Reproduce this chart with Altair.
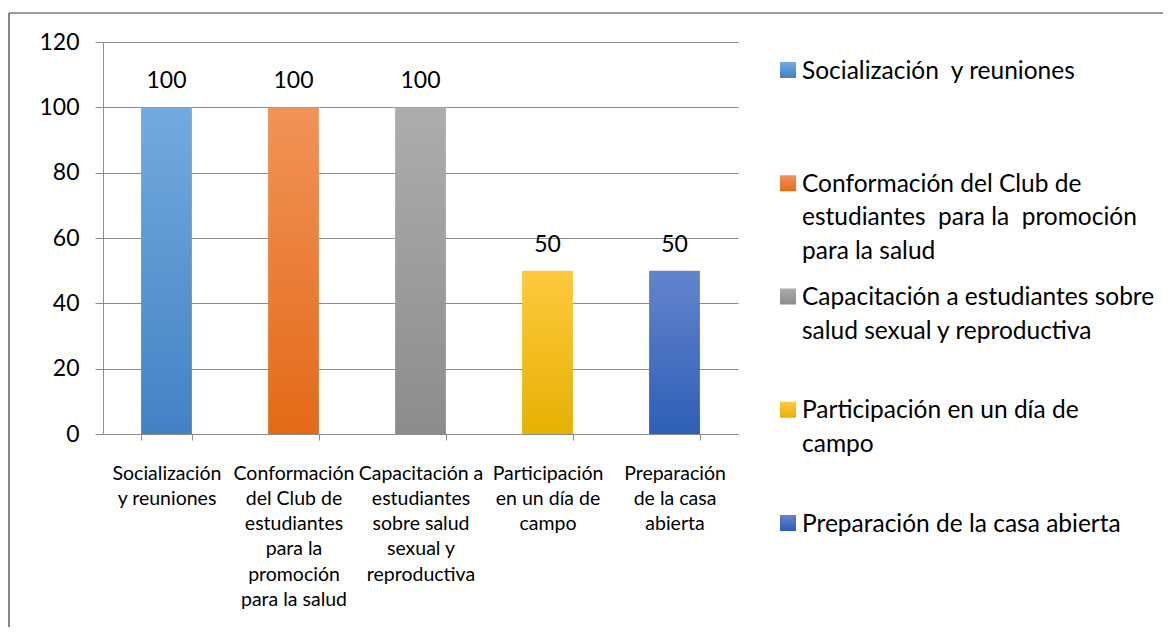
import altair as alt
import pandas as pd

# ---- data ----
axis_labels = [
    "Socialización\ny reuniones",
    "Conformación\ndel Club de\nestudiantes\npara la\npromoción\npara la salud",
    "Capacitación a\nestudiantes\nsobre salud\nsexual y\nreproductiva",
    "Participación\nen un día de\ncampo",
    "Preparación\nde la casa\nabierta",
]
series_names = [
    "Socialización\u00a0 y reuniones",
    "Conformación del Club de estudiantes\u00a0 para la\u00a0 promoción para la salud",
    "Capacitación a estudiantes sobre salud sexual y reproductiva",
    "Participación en un día de campo",
    "Preparación de la casa abierta",
]
legend_labels = [
    "Socialización\u00a0 y reuniones",
    "Conformación del Club de\nestudiantes\u00a0 para la\u00a0 promoción\npara la salud",
    "Capacitación a estudiantes sobre\nsalud sexual y reproductiva",
    "Participación en un día de\ncampo",
    "Preparación de la casa abierta",
]
values = [100, 100, 100, 50, 50]
y_ticks = [0, 20, 40, 60, 80, 100, 120]

top_colors = ["#74AADE", "#F29358", "#ADADAD", "#FFC841", "#6384CC"]
bottom_colors = ["#4282C4", "#E36A17", "#8C8C8C", "#E6B200", "#2E5EB7"]

df = pd.DataFrame({
    "category": axis_labels,
    "series": series_names,
    "legend": legend_labels,
    "value": values,
})

FONT = "Lato"
GRID = "#8C8C8C"

x_enc = alt.X(
    "category:N",
    sort=axis_labels,
    scale=alt.Scale(paddingInner=0.6, paddingOuter=0.3),
    axis=alt.Axis(
        title=None, labelAngle=0, labelExpr="split(datum.label, '\\n')",
        labelFont=FONT, labelFontSize=19.5, labelColor="#000000",
        labelLineHeight=25.3, labelPadding=24, labelLimit=400,
        tickBand="extent", tickSize=6, tickColor=GRID, domainColor=GRID,
        grid=False,
    ),
)
y_enc = alt.Y(
    "value:Q",
    scale=alt.Scale(domain=[0, 120], nice=False),
    axis=alt.Axis(
        title=None, values=y_ticks, labelFont=FONT, labelFontSize=23,
        labelColor="#000000", labelPadding=16, tickSize=8, tickColor=GRID,
        domainColor=GRID, gridColor=GRID, grid=True,
    ),
)

def grad(i):
    return alt.Gradient(
        gradient="linear",
        stops=[alt.GradientStop(color=top_colors[i], offset=0),
               alt.GradientStop(color=bottom_colors[i], offset=1)],
        x1=0, x2=0, y1=0, y2=1,
    )

base = alt.Chart(df)

bar_layers = []
for i, s in enumerate(series_names):
    bar_layers.append(
        base.transform_filter(alt.datum.series == s)
        .mark_bar(fill=grad(i))
        .encode(x=x_enc, y=y_enc)
    )

value_text = base.mark_text(
    font=FONT, fontSize=23, color="#000000", baseline="alphabetic", dy=-19
).encode(x=x_enc, y=y_enc, text="value:Q")

border_data = alt.Data(values=[{"k": 1}])
border_left = alt.Chart(border_data).mark_rule(color="#3A3A3A", strokeWidth=1.2).encode(
    x=alt.value(-94), y=alt.value(-29), y2=alt.value(585)
)
border_top = alt.Chart(border_data).mark_rule(color="#3A3A3A", strokeWidth=1.2).encode(
    x=alt.value(-94), x2=alt.value(1060), y=alt.value(-29)
)

plot_group = alt.layer(*bar_layers, value_text, border_left, border_top)

leg_y = alt.Y(
    "series:N",
    scale=alt.Scale(domain=series_names, range=[28, 481], padding=0),
    axis=None,
)
leg_squares = []
for i, s in enumerate(series_names):
    leg_squares.append(
        base.transform_filter(alt.datum.series == s)
        .mark_square(size=256, fill=grad(i), opacity=1, strokeWidth=0)
        .encode(x=alt.value(685), y=leg_y)
    )
leg_text = base.mark_text(
    font=FONT, fontSize=24.5, color="#000000", align="left",
    baseline="alphabetic", dy=8.5, lineBreak="\n", lineHeight=33.5,
).encode(x=alt.value(699), y=leg_y, text="legend:N")

legend_group = alt.layer(*leg_squares, leg_text)

chart = (
    alt.layer(plot_group, legend_group)
    .resolve_scale(y="independent")
    .properties(
        width=635, height=392,
        padding={"left": 95, "top": 34, "right": 425, "bottom": 193},
        autosize=alt.AutoSizeParams(type="none"),
        background="#FFFFFF",
    )
    .configure_view(strokeWidth=0)
)

chart.save("out.html", embed_options={"renderer": "svg", "actions": False})
